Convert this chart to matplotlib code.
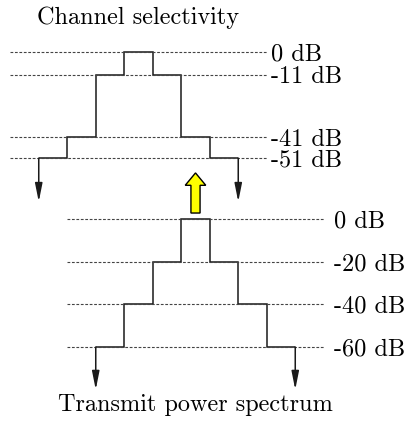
import numpy as np
import matplotlib
matplotlib.use("Agg")
import matplotlib.pyplot as plt
from matplotlib.patches import FancyArrow

plt.rcParams["font.family"] = ["cmr10", "DejaVu Serif"]
plt.rcParams["lines.scale_dashes"] = False

# channel edges (in channel spacings) and step levels in dB
edges = np.array([-3.5, -2.5, -1.5, -0.5, 0.5, 1.5, 2.5, 3.5])
rx_levels = [-51, -41, -11, 0, -11, -41, -51]
tx_levels = [-60, -40, -20, 0, -20, -40, -60]
rx_ref_db = [0, -11, -41, -51]
tx_ref_db = [0, -20, -40, -60]
tx_offset = 2  # transmitter sits two channels away from the receiver

rx_title = "Channel selectivity"
tx_title = "Transmit power spectrum"

W, H = 407, 421
fig = plt.figure(figsize=(W / 100, H / 100), dpi=100)

# same x scale for both diagrams, separate dB scales
xlim = (-138.5 / 28.5, (W - 138.5) / 28.5)
ax1 = fig.add_axes([0, 0, 1, 1])
ax1.set_xlim(*xlim)
ax1.set_ylim((52 - H) / 2.08, 52 / 2.08)
ax2 = fig.add_axes([0, 0, 1, 1])
ax2.set_xlim(*xlim)
ax2.set_ylim((219 - H) / 2.133, 219 / 2.133)
for ax in (ax1, ax2):
    ax.axis("off")
    ax.patch.set_alpha(0)

dash_kw = dict(color="#444444", lw=0.8, linestyle=(0, (2.0, 1.2)))
step_kw = dict(color="#1a1a1a", lw=1.1)
arr_kw = dict(arrowstyle="-|>,head_length=1.1,head_width=0.22", color="#1a1a1a",
              lw=1.1, shrinkA=0, shrinkB=0, mutation_scale=10)
fs = 17.5

def draw(ax, levels, refs, off, tail, lab_dx):
    for r in refs:
        ax.plot([off - 4.5, off + 4.5], [r, r], **dash_kw)
        ax.text(off + 4.5 + lab_dx, r, f"{r} dB", fontsize=fs, ha="left",
                va="center_baseline")
    ax.stairs(levels, edges + off, baseline=None, **step_kw)
    for x, lv in ((edges[0] + off, levels[0]), (edges[-1] + off, levels[-1])):
        ax.annotate("", xy=(x, lv - tail), xytext=(x, lv), arrowprops=arr_kw)

draw(ax1, rx_levels, rx_ref_db, 0, 21, 0.15)
draw(ax2, tx_levels, tx_ref_db, tx_offset, 20, 0.35)

ax1.text(0, 16.5, rx_title, fontsize=fs, ha="center", va="center")
ax2.text(tx_offset, -87, tx_title, fontsize=fs, ha="center", va="center")

ax2.add_patch(FancyArrow(tx_offset, 2.8, 0, 18.8, width=0.32, head_width=0.72,
                         head_length=5.8, length_includes_head=True,
                         facecolor="#ffff00", edgecolor="black", lw=1.0))

fig.savefig("out.png", dpi=100)
